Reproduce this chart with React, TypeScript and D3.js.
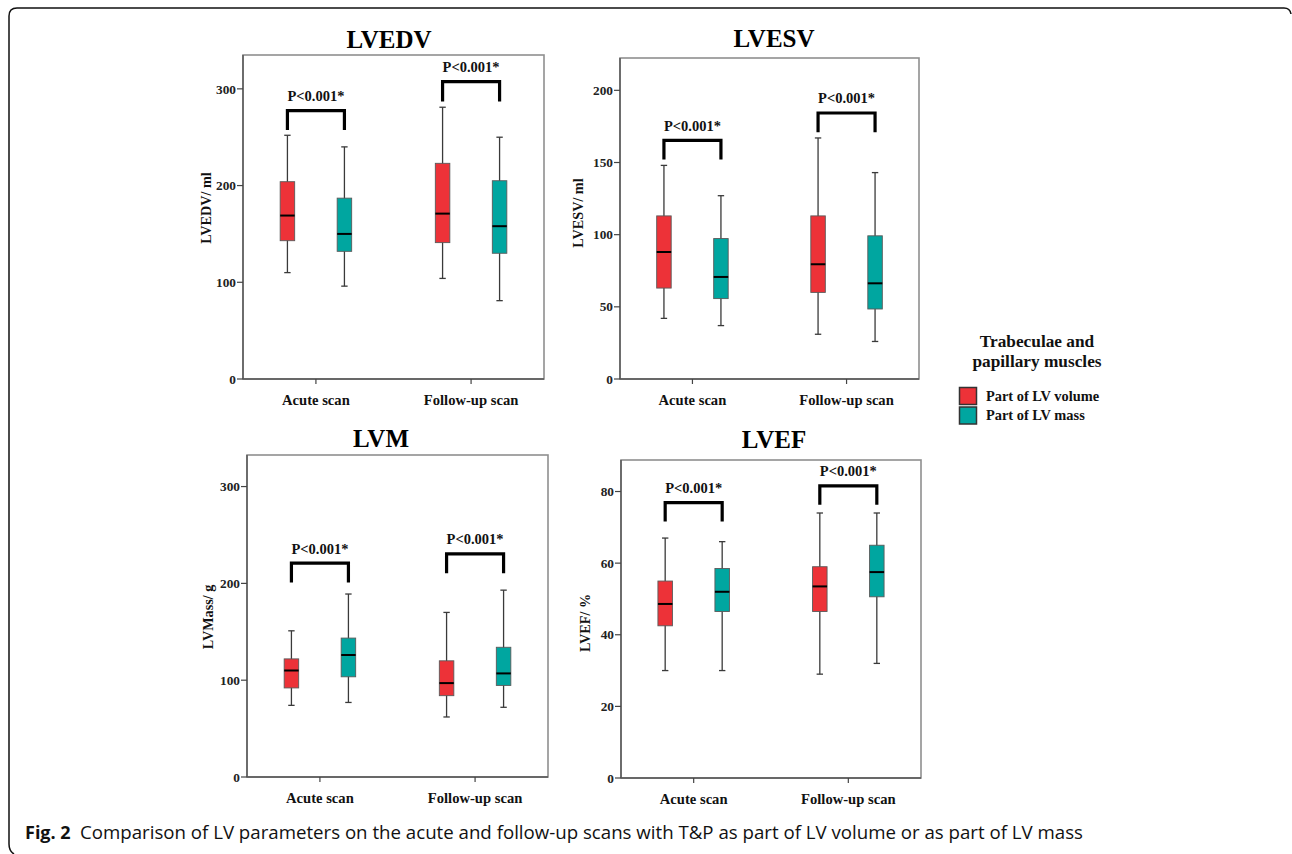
import * as d3 from 'd3'

const categories = ['Acute scan', 'Follow-up scan']
const series = ['Part of LV volume', 'Part of LV mass']
const seriesColors = ['#ED3238', '#00A6A0']

// box values: [min, Q1, median, Q3, max] per category
const lvedvVolume = [[110, 143, 169, 204, 252], [104, 141, 171, 223, 281]]
const lvedvMass = [[96, 132, 150, 187, 240], [81, 130, 158, 205, 250]]
const lvesvVolume = [[42, 63, 88, 113, 148], [31, 60, 79.5, 113, 167]]
const lvesvMass = [[37, 55.7, 70.7, 97.3, 127], [26, 48.5, 66.3, 99.2, 143]]
const lvmVolume = [[74, 92, 110, 122, 151], [62, 84, 97, 120, 170]]
const lvmMass = [[77, 103.5, 126, 143.5, 189], [72, 94.6, 107, 134, 193]]
const lvefVolume = [[30, 42.5, 48.6, 55, 67], [29, 46.5, 53.5, 59, 74]]
const lvefMass = [[30, 46.5, 52, 58.5, 66], [32, 50.6, 57.5, 65, 74]]

// significance brackets: [bar level, leg end] per category
const lvedvBrackets = [[277.5, 257.5], [307.5, 287]]
const lvesvBrackets = [[165.3, 152], [184.3, 171]]
const lvmBrackets = [[221, 201], [230.5, 210.5]]
const lvefBrackets = [[76.9, 71.6], [81.6, 76.3]]
const pLabel = 'P<0.001*'

const lvedvTicks = [0, 100, 200, 300]
const lvesvTicks = [0, 50, 100, 150, 200]
const lvmTicks = [0, 100, 200, 300]
const lvefTicks = [0, 20, 40, 60, 80]

const legendTitle = ['Trabeculae and', 'papillary muscles']
const captionBold = 'Fig. 2'
const captionText = 'Comparison of LV parameters on the acute and follow-up scans with T&P as part of LV volume or as part of LV mass'

const serif = "'Liberation Serif', 'Times New Roman', serif"

type PanelProps = {
  title: string
  yLabel: string
  volume: number[][]
  mass: number[][]
  brackets: number[][]
  ticks: number[]
  yMax: number
  x0: number
  y0: number
  x1: number
  y1: number
  titleX: number
  titleY: number
  labelX: number
  labelY: number
}

function Panel(p: PanelProps) {
  const y = d3.scaleLinear().domain([0, p.yMax]).range([p.y1, p.y0])
  const x = d3.scalePoint<string>().domain(categories).range([p.x0, p.x1]).padding(0.47)
  const sub = d3.scalePoint<string>().domain(series).range([-28.5, 28.5])
  const bw = 14.5
  const groups = [p.volume, p.mass]

  return (
    <g fontFamily={serif} fontWeight="bold">
      <text x={p.titleX} y={p.titleY} textAnchor="middle" fontSize={25} fill="#000">{p.title}</text>
      <rect x={p.x0} y={p.y0} width={p.x1 - p.x0} height={p.y1 - p.y0} fill="none" stroke="#8f8f8f" strokeWidth={1.6} />
      <line x1={p.x0} x2={p.x0} y1={p.y0} y2={p.y1} stroke="#555" strokeWidth={1.4} />
      <line x1={p.x0} x2={p.x1} y1={p.y1} y2={p.y1} stroke="#555" strokeWidth={1.4} />
      <text
        transform={`translate(${p.labelX},${p.labelY}) rotate(-90)`}
        textAnchor="middle"
        fontSize={14.2}
        fill="#111"
      >
        {p.yLabel}
      </text>

      {p.ticks.map(t => (
        <g key={t}>
          <line x1={p.x0 - 6} x2={p.x0} y1={y(t)} y2={y(t)} stroke="#444" strokeWidth={1.2} />
          <text x={p.x0 - 7} y={y(t)} dy="0.35em" textAnchor="end" fontSize={13.3} fill="#222">{t}</text>
        </g>
      ))}

      {categories.map(c => (
        <g key={c}>
          <line x1={x(c)} x2={x(c)} y1={p.y1} y2={p.y1 + 5} stroke="#444" strokeWidth={1.2} />
          <text x={x(c)} y={p.y1 + 26} textAnchor="middle" fontSize={14.6} fill="#111">{c}</text>
        </g>
      ))}

      {categories.map((c, i) =>
        series.map((s, k) => {
          const [mn, q1, md, q3, mx] = groups[k][i]
          const cx = (x(c) ?? 0) + (sub(s) ?? 0)
          return (
            <g key={c + s}>
              <line x1={cx} x2={cx} y1={y(mx)} y2={y(mn)} stroke="#3a3a3a" strokeWidth={1.3} />
              <line x1={cx - 3.2} x2={cx + 3.2} y1={y(mx)} y2={y(mx)} stroke="#3a3a3a" strokeWidth={1.3} />
              <line x1={cx - 3.2} x2={cx + 3.2} y1={y(mn)} y2={y(mn)} stroke="#3a3a3a" strokeWidth={1.3} />
              <rect
                x={cx - bw / 2}
                y={y(q3)}
                width={bw}
                height={y(q1) - y(q3)}
                fill={seriesColors[k]}
                stroke="#5a5a5a"
                strokeWidth={0.9}
              />
              <line x1={cx - bw / 2} x2={cx + bw / 2} y1={y(md)} y2={y(md)} stroke="#000" strokeWidth={2} />
            </g>
          )
        })
      )}

      {categories.map((c, i) => {
        const xa = (x(c) ?? 0) + (sub(series[0]) ?? 0)
        const xb = (x(c) ?? 0) + (sub(series[1]) ?? 0)
        const [bar, leg] = p.brackets[i]
        return (
          <g key={'b' + c}>
            <path
              d={`M${xa},${y(leg)}V${y(bar)}H${xb}V${y(leg)}`}
              fill="none"
              stroke="#000"
              strokeWidth={3.2}
            />
            <text x={(xa + xb) / 2} y={y(bar) - 9.5} textAnchor="middle" fontSize={14.5} fill="#111">{pLabel}</text>
          </g>
        )
      })}
    </g>
  )
}

export default function App() {
  return (
    <div style={{ position: 'absolute', left: 0, top: 0 }}>
      <svg width={1292} height={854} style={{ display: 'block', background: '#fff' }}>
        <path
          d="M9,16 Q9,8 17,8 H1284 Q1290,8 1291,14 M9,16 V844 Q9,851 14,854"
          fill="none"
          stroke="#111"
          strokeWidth={1.5}
        />

        <Panel title="LVEDV" yLabel="LVEDV/ ml" volume={lvedvVolume} mass={lvedvMass} brackets={lvedvBrackets}
          ticks={lvedvTicks} yMax={335} x0={243} y0={55} x1={544} y1={379}
          titleX={389} titleY={48} labelX={211} labelY={208} />
        <Panel title="LVESV" yLabel="LVESV/ ml" volume={lvesvVolume} mass={lvesvMass} brackets={lvesvBrackets}
          ticks={lvesvTicks} yMax={222.4} x0={620} y0={58} x1={919} y1={379}
          titleX={774} titleY={47} labelX={583} labelY={213} />
        <Panel title="LVM" yLabel="LVMass/ g" volume={lvmVolume} mass={lvmMass} brackets={lvmBrackets}
          ticks={lvmTicks} yMax={332.6} x0={247} y0={455} x1={548} y1={777}
          titleX={381} titleY={447} labelX={213} labelY={617} />
        <Panel title="LVEF" yLabel="LVEF/ %" volume={lvefVolume} mass={lvefMass} brackets={lvefBrackets}
          ticks={lvefTicks} yMax={88.8} x0={621} y0={460} x1={921} y1={778}
          titleX={774} titleY={448} labelX={590} labelY={623} />

        <g fontFamily={serif} fontWeight="bold" fill="#111">
          {legendTitle.map((t, i) => (
            <text key={t} x={1037} y={347 + i * 19.5} textAnchor="middle" fontSize={17.3}>{t}</text>
          ))}
          {series.map((s, i) => (
            <g key={s}>
              <rect x={959.5} y={387.5 + i * 19.5} width={17} height={17} fill={seriesColors[i]} stroke="#333" strokeWidth={1.5} />
              <text x={986} y={401 + i * 18.5} fontSize={14.4}>{s}</text>
            </g>
          ))}
        </g>

        <text x={25} y={839} fontFamily="'Open Sans', 'Noto Sans', sans-serif" fontSize={18} fontWeight="bold" fill="#111">
          {captionBold}
        </text>
        <text x={80} y={839} fontFamily="'Open Sans', 'Noto Sans', sans-serif" fontSize={18} fill="#111"
          textLength={1003} lengthAdjust="spacingAndGlyphs">
          {captionText}
        </text>
      </svg>
    </div>
  )
}
